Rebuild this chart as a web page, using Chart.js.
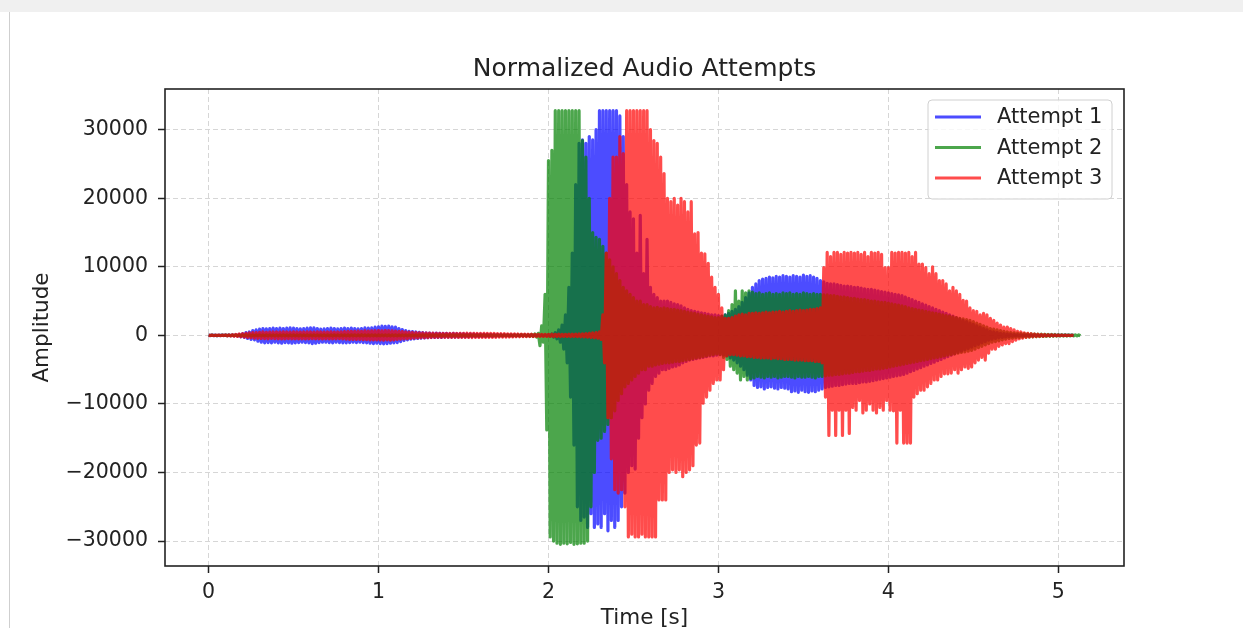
<!DOCTYPE html>
<html>
<head>
<meta charset="utf-8">
<title>Normalized Audio Attempts</title>
<script src="https://cdn.jsdelivr.net/npm/chart.js@4.4.1/dist/chart.umd.min.js"></script>
<style>
  html, body { margin: 0; padding: 0; background: #fff; }
  body { width: 1243px; height: 628px; position: relative; overflow: hidden; }
  #topBar { position: absolute; left: 0; top: 0; width: 1243px; height: 12px; background: #f0f0f0; }
  #leftRule { position: absolute; left: 9px; top: 12px; width: 1px; height: 616px; background: #cfcfcf; }
  #audioChart { position: absolute; left: 0; top: 0; }
</style>
</head>
<body>
<div id="topBar"></div>
<div id="leftRule"></div>
<canvas id="audioChart" width="1243" height="628"></canvas>
<script>
const chartTitle = 'Normalized Audio Attempts'
const seriesNames = ['Attempt 1', 'Attempt 2', 'Attempt 3']
const sampleStep = 0.01 // seconds between two peak readings
const xTicks = [0, 1, 2, 3, 4, 5]
const yTicks = [-30000, -20000, -10000, 0, 10000, 20000, 30000]

// peak readings, alternating top / bottom, one row = 0.1 s
const attempt1 = [
  30,-30,40,-30,30,-40,30,-30,40,-30,
  40,-50,60,-50,80,-70,90,-100,150,-200,
  250,-300,400,-450,500,-600,700,-650,800,-850,
  900,-1000,1000,-1100,950,-1050,1000,-1100,1050,-1000,
  1000,-1100,1050,-1150,1000,-1050,1050,-1100,1100,-1150,
  1050,-1100,1000,-1050,950,-1000,1000,-1050,1050,-1100,
  1100,-1200,1100,-1150,1000,-1050,900,-1000,950,-1000,
  1000,-1050,1050,-1100,1000,-1000,950,-1050,1000,-1100,
  1050,-1100,1000,-1050,1050,-1000,1000,-1050,950,-1000,
  1000,-1050,1100,-1100,1050,-1150,1100,-1200,1200,-1150,
  1250,-1200,1350,-1250,1300,-1200,1350,-1150,1250,-1100,
  1200,-1050,1000,-900,850,-750,700,-650,600,-550,
  550,-500,500,-450,450,-400,400,-380,350,-330,
  330,-300,300,-300,320,-280,300,-300,280,-260,
  280,-260,260,-250,270,-240,250,-230,240,-220,
  230,-220,220,-200,210,-200,200,-190,190,-180,
  180,-170,170,-160,160,-150,150,-150,140,-130,
  130,-120,120,-110,110,-100,100,-100,90,-90,
  90,-80,80,-80,70,-70,70,-60,60,-60,
  60,-60,50,-50,50,-50,60,-60,80,-90,
  100,-120,200,-250,400,-500,800,-1000,1500,-2000,
  3000,-4000,7000,-9000,12000,-16000,22000,-25000,28000,-27000,
  28500,-26500,28000,-28000,29000,-26000,28500,-28000,30000,-27500,
  32767,-28000,32767,-26000,32767,-28500,32767,-27000,32767,-28000,
  32767,-27000,32000,-25000,29000,-23000,22000,-20000,18000,-19000,
  17000,-19500,12000,-15000,17500,-12000,9000,-10000,14000,-8000,
  7000,-7000,6000,-6000,5500,-5500,5000,-5000,5000,-5000,
  5000,-4800,4800,-4600,4600,-4500,4500,-4300,4300,-4000,
  4000,-3800,3800,-3600,3600,-3500,3500,-3400,3400,-3300,
  3300,-3200,3200,-3100,3100,-3000,3000,-3000,3000,-2900,
  2900,-2800,2800,-2900,3000,-3000,3200,-3300,3500,-3600,
  3800,-4000,4200,-4500,4800,-5000,5500,-5800,6200,-6500,
  7000,-7300,7500,-7600,8000,-7500,8200,-7800,8300,-7600,
  8500,-7500,8400,-7700,8600,-7800,8500,-7600,8700,-7700,
  8600,-7800,8500,-8200,8700,-8100,8600,-8300,8500,-8000,
  8800,-8200,8600,-8300,8700,-8100,8500,-8200,8300,-8000,
  8000,-7800,7800,-7600,7600,-7500,7500,-7400,7500,-7300,
  7400,-7300,7300,-7200,7200,-7100,7200,-7000,7100,-7000,
  7000,-7000,7000,-6900,6900,-6800,6800,-6800,6700,-6700,
  6700,-6600,6600,-6500,6500,-6400,6400,-6300,6300,-6200,
  6200,-6100,6100,-6000,6000,-5900,5900,-5800,5800,-5700,
  5600,-5500,5400,-5300,5200,-5100,5000,-4900,4800,-4700,
  4600,-4500,4400,-4300,4200,-4100,4000,-3900,3800,-3700,
  3600,-3500,3400,-3300,3200,-3100,3000,-2900,2800,-2700,
  2600,-2500,2400,-2300,2200,-2100,2000,-1900,1800,-1700,
  1600,-1500,1400,-1300,1200,-1100,1000,-900,800,-700,
  600,-550,500,-450,400,-350,300,-280,250,-220,
  200,-180,160,-140,120,-100,90,-80,70,-60,
  50,-50,40,-40,30,-30,30,-30,20,-20,
  20,-20,20,-20,10,-10,10,-10,10,-10,
  10,-10,10,-10,0,0,0,0,0,0
]

const attempt2 = [
  20,-20,30,-20,20,-30,20,-20,30,-20,
  30,-30,30,-40,40,-30,40,-40,30,-30,
  50,-60,60,-50,70,-60,60,-70,60,-50,
  70,-60,80,-70,60,-80,70,-60,80,-70,
  80,-70,70,-80,90,-70,80,-90,70,-80,
  80,-90,70,-80,90,-80,70,-90,80,-70,
  90,-80,80,-70,70,-90,90,-80,80,-90,
  70,-80,90,-90,80,-70,70,-80,90,-80,
  80,-70,80,-90,90,-80,80,-70,70,-90,
  90,-90,70,-80,80,-90,90,-80,80,-70,
  80,-80,90,-70,70,-80,80,-90,90,-80,
  70,-90,80,-80,90,-70,80,-80,70,-90,
  80,-70,70,-90,80,-80,90,-70,80,-80,
  90,-80,80,-80,70,-90,80,-80,90,-70,
  80,-90,90,-70,80,-80,70,-90,80,-80,
  70,-80,80,-90,90,-80,80,-70,70,-90,
  80,-70,90,-80,80,-90,70,-80,80,-80,
  90,-80,70,-90,80,-70,90,-80,80,-90,
  80,-90,100,-90,120,-100,90,-110,100,-120,
  150,-150,200,-250,300,-1500,1400,-1000,6000,-13800,
  25500,-29400,27000,-30000,32767,-30300,32767,-30470,32767,-30300,
  32767,-30400,32767,-30200,32767,-30470,32767,-30400,32767,-30300,
  28400,-30300,26000,-30000,20000,-25000,15000,-20000,14300,-15300,
  14000,-15000,13000,-14000,12000,-13000,11000,-12000,10000,-11000,
  9000,-9500,8000,-8500,7000,-7500,6500,-7000,6000,-6500,
  5500,-6000,5000,-5500,5000,-5000,4500,-5000,4500,-4500,
  4200,-4500,4000,-4300,4100,-4200,3900,-4100,4000,-4000,
  3900,-4000,3800,-3900,3800,-3800,3700,-3800,3600,-3700,
  3500,-3600,3400,-3500,3300,-3400,3200,-3300,3100,-3200,
  3000,-3100,2900,-3000,2800,-2900,2700,-2800,2600,-2700,
  2600,-2800,2800,-3200,3000,-3500,3600,-4500,4500,-5000,
  6500,-5500,5000,-6500,6500,-6000,6200,-6500,6500,-6300,
  6300,-6200,6100,-6000,6200,-6100,6000,-6200,6100,-6000,
  6200,-6100,6000,-6000,6100,-6200,6000,-6100,6200,-6000,
  6100,-6000,6200,-6100,6000,-6200,6100,-6000,6000,-6100,
  6200,-6100,6100,-6000,6000,-6100,6100,-6200,6000,-6000,
  6000,-6000,5900,-5900,5900,-5800,5800,-5800,5800,-5700,
  5700,-5700,5600,-5600,5600,-5500,5500,-5500,5400,-5400,
  5400,-5300,5300,-5300,5200,-5200,5200,-5100,5100,-5100,
  5000,-5000,5000,-4900,4900,-4900,4800,-4800,4800,-4700,
  4700,-4600,4600,-4500,4500,-4400,4400,-4300,4300,-4200,
  4200,-4100,4000,-4000,3900,-3900,3800,-3800,3700,-3700,
  3600,-3600,3500,-3500,3400,-3400,3300,-3300,3200,-3200,
  3100,-3100,3000,-3000,2900,-2900,2800,-2800,2700,-2700,
  2600,-2600,2500,-2500,2400,-2400,2300,-2300,2200,-2200,
  2000,-2000,1800,-1800,1600,-1600,1400,-1400,1200,-1200,
  1000,-1000,900,-900,800,-800,700,-650,600,-550,
  500,-450,420,-400,380,-350,320,-300,280,-260,
  250,-240,230,-220,210,-200,190,-180,170,-160,
  160,-150,150,-140,140,-130,130,-120,120,-110,
  110,-100,100,-100,90,-90,90,-80,80,-80,
  70,-70,60,-60
]

const attempt3 = [
  30,-30,40,-40,30,-30,40,-40,30,-30,
  60,-70,80,-90,100,-120,150,-150,200,-200,
  250,-250,300,-300,350,-350,400,-400,400,-420,
  450,-450,500,-480,450,-500,480,-450,500,-480,
  500,-500,480,-520,520,-500,500,-480,480,-500,
  520,-500,500,-520,480,-500,500,-520,520,-500,
  500,-480,480,-500,520,-500,500,-520,480,-500,
  500,-520,520,-500,480,-500,500,-480,520,-520,
  550,-550,600,-580,580,-600,600,-600,620,-600,
  600,-620,650,-620,620,-650,650,-650,680,-650,
  700,-680,650,-700,700,-650,680,-700,650,-650,
  620,-600,580,-560,550,-520,500,-480,460,-440,
  420,-400,400,-380,380,-360,360,-350,340,-330,
  320,-310,310,-300,300,-290,290,-280,280,-270,
  280,-280,290,-280,300,-290,290,-300,300,-290,
  300,-300,310,-300,300,-310,300,-300,290,-300,
  290,-290,300,-280,280,-290,280,-280,270,-280,
  260,-260,250,-250,240,-240,230,-230,220,-220,
  210,-200,200,-200,190,-190,180,-180,170,-170,
  160,-160,150,-150,150,-150,150,-150,150,-150,
  150,-150,160,-160,150,-150,160,-160,150,-150,
  150,-150,160,-160,170,-170,180,-180,200,-200,
  220,-220,250,-250,300,-300,350,-350,400,-400,
  500,-600,3000,-4000,12000,-12000,20000,-18000,26000,-22500,
  26000,-23000,29000,-22500,26500,-25000,32767,-29400,32767,-29000,
  32767,-29400,32767,-29400,32767,-29000,32767,-29400,32767,-29400,
  30000,-29400,28400,-29400,28000,-24000,26000,-24000,23600,-24000,
  20000,-20000,19500,-19600,20000,-20000,19000,-19600,20000,-20600,
  19500,-20000,18000,-19600,19500,-19000,14800,-16000,15000,-15700,
  12000,-9900,11900,-9000,10500,-8000,8500,-7000,7000,-6500,
  6000,-6500,4000,-5000,2500,-3000,2500,-2800,2600,-2800,
  2800,-2900,3000,-3000,3100,-3000,3000,-3100,3200,-3100,
  3200,-3200,3300,-3200,3200,-3300,3300,-3300,3400,-3300,
  3300,-3400,3400,-3300,3400,-3400,3500,-3400,3400,-3500,
  3500,-3500,3600,-3500,3500,-3600,3600,-3600,3700,-3600,
  3600,-3700,3700,-3700,3800,-3700,3800,-3800,3900,-3800,
  4000,-4000,9900,-9000,12100,-14600,11500,-10900,12100,-14600,
  12100,-10900,11800,-14600,12100,-10900,12000,-14300,12100,-10500,
  12000,-10900,12100,-9500,11800,-11300,12100,-10900,11500,-10000,
  12100,-10900,12000,-11300,12100,-10500,11800,-10900,9900,-9500,
  9900,-10900,12100,-11000,12000,-15700,12100,-10900,12100,-15700,
  12000,-15700,12100,-15700,11500,-9000,12100,-8500,10400,-8000,
  10400,-8000,9900,-7500,9000,-7000,10000,-6500,9000,-6500,
  8000,-6000,8000,-5600,7500,-5600,6500,-5500,7000,-5000,
  6500,-5500,6000,-5000,5100,-4600,5000,-4800,4000,-4600,
  3600,-4000,3500,-3600,3000,-3200,3200,-3600,3000,-2600,
  2500,-2000,2200,-2000,1800,-1600,1500,-1400,1200,-1200,
  1200,-1200,1000,-900,800,-700,600,-500,500,-400,
  350,-300,300,-250,250,-200,200,-180,160,-150,
  140,-130,120,-110,100,-100,90,-80,70,-60,
  50,-50,40,-40,30,-30,20,-20,10,-10
]

const seriesValues = [attempt1, attempt2, attempt3]
const seriesColors = ['rgba(0, 0, 255, 0.7)', 'rgba(0, 128, 0, 0.7)', 'rgba(255, 0, 0, 0.7)']

const fontFamily = '"DejaVu Sans", "Liberation Sans", sans-serif'
const inkColor = '#222'

function toPoints(values) {
  return values.map((v, i) => ({ x: +(i * sampleStep).toFixed(2), y: v }))
}

// matplotlib style autoscale: 5% margin on each side
const allValues = seriesValues.flat()
const yLow = Math.min(...allValues)
const yHigh = Math.max(...allValues)
const yPad = (yHigh - yLow) * 0.05
const tEnd = +((Math.max(...seriesValues.map(s => s.length)) - 1) * sampleStep).toFixed(2)
const xPad = tEnd * 0.05

function formatTick(v) {
  return v < 0 ? '\u2212' + Math.abs(v) : String(v)
}

const frameAndText = {
  id: 'frameAndText',
  afterDatasetsDraw(chart) {
    const { ctx, chartArea: a } = chart
    ctx.save()
    ctx.strokeStyle = inkColor
    ctx.lineWidth = 1.6
    ctx.strokeRect(a.left, a.top, a.right - a.left, a.bottom - a.top)
    ctx.restore()
  },
  afterDraw(chart) {
    const { ctx, chartArea: a } = chart
    ctx.save()
    // title
    ctx.fillStyle = inkColor
    ctx.font = '25px ' + fontFamily
    ctx.textAlign = 'center'
    ctx.textBaseline = 'alphabetic'
    ctx.fillText(chartTitle, (a.left + a.right) / 2, 76)

    // legend box, upper right
    const bx = 928, by = 100, bw = 184, bh = 99
    ctx.beginPath()
    ctx.roundRect(bx, by, bw, bh, 4)
    ctx.fillStyle = 'rgba(255, 255, 255, 0.8)'
    ctx.fill()
    ctx.strokeStyle = '#d0d0d0'
    ctx.lineWidth = 1
    ctx.stroke()

    ctx.font = '21px ' + fontFamily
    ctx.textAlign = 'left'
    ctx.textBaseline = 'middle'
    chart.data.datasets.forEach((ds, i) => {
      const rowY = 117 + i * 30.5
      ctx.strokeStyle = ds.borderColor
      ctx.lineWidth = 3
      ctx.beginPath()
      ctx.moveTo(935, rowY)
      ctx.lineTo(981, rowY)
      ctx.stroke()
      ctx.fillStyle = inkColor
      ctx.fillText(ds.label, 997, rowY + 1)
    })
    ctx.restore()
  }
}

const ctx = document.getElementById('audioChart').getContext('2d')

const audioChart = new Chart(ctx, {
  type: 'line',
  data: {
    datasets: seriesValues.map((values, i) => ({
      label: seriesNames[i],
      data: toPoints(values),
      borderColor: seriesColors[i],
      borderWidth: 3.2,
      order: seriesValues.length - i // later attempts are drawn on top
    }))
  },
  options: {
    responsive: false,
    animation: false,
    devicePixelRatio: 1,
    events: [],
    layout: { padding: { left: 0, top: 89, right: 119, bottom: 0 } },
    elements: {
      point: { radius: 0 },
      line: { tension: 0, borderJoinStyle: 'round', borderCapStyle: 'butt', fill: false }
    },
    plugins: {
      legend: { display: false },
      title: { display: false },
      tooltip: { enabled: false }
    },
    scales: {
      x: {
        type: 'linear',
        min: -xPad,
        max: tEnd + xPad,
        afterBuildTicks: s => { s.ticks = xTicks.map(v => ({ value: v })) },
        afterFit: s => { s.height = 62 },
        ticks: { font: { family: fontFamily, size: 20.5 }, color: inkColor, padding: 7, maxRotation: 0, autoSkip: false, callback: v => formatTick(v) },
        grid: { color: '#d6d6d6', lineWidth: 1, tickColor: inkColor, tickLength: 7, tickWidth: 1.5 },
        border: { display: false, dash: [5, 3] },
        title: { display: true, text: 'Time [s]', color: inkColor, font: { family: fontFamily, size: 21.5, lineHeight: 1 }, padding: { top: 0, bottom: -1 } }
      },
      y: {
        type: 'linear',
        min: yLow - yPad,
        max: yHigh + yPad,
        afterBuildTicks: s => { s.ticks = yTicks.map(v => ({ value: v })) },
        afterFit: s => { s.width = 165 },
        ticks: { font: { family: fontFamily, size: 20.5 }, color: inkColor, padding: 10, autoSkip: false, callback: v => formatTick(v) },
        grid: { color: '#d6d6d6', lineWidth: 1, tickColor: inkColor, tickLength: 7, tickWidth: 1.5 },
        border: { display: false, dash: [5, 3] },
        title: { display: true, text: 'Amplitude', color: inkColor, font: { family: fontFamily, size: 21.5, lineHeight: 1.2 }, padding: { top: 30, bottom: 0 } }
      }
    }
  },
  plugins: [frameAndText]
})
</script>
</body>
</html>
